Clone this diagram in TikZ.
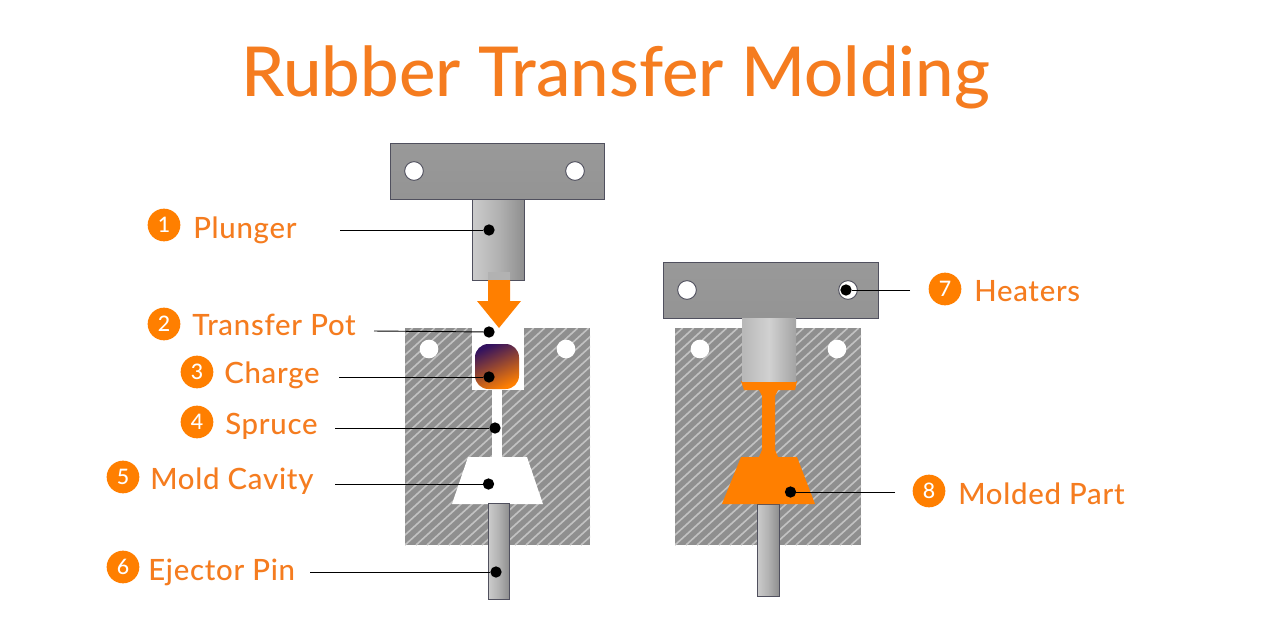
\documentclass[tikz,border=0pt]{standalone}
\usepackage{fontspec}
\setmainfont{Lato Medium}
\newfontfamily\labelfont[LetterSpace=2.5]{Lato Medium}
\usetikzlibrary{shadings}
\definecolor{rorange}{HTML}{FF7F00}
\definecolor{torange}{HTML}{F57C1F}
\definecolor{hatchbg}{HTML}{8F8F8F}
\definecolor{hatchln}{HTML}{C2C2C2}
\definecolor{edgecol}{HTML}{50505E}
\definecolor{purp}{HTML}{33125F}
\tikzset{
  x=0.75pt,y=-0.75pt,
  plate/.style={draw=edgecol,line width=0.7pt,top color=black!40,middle color=black!27,bottom color=black!42},
  metalh/.style={draw=edgecol,line width=0.7pt,left color=black!20,right color=black!44,middle color=black!30},
  hole/.style={circle,draw=edgecol,fill=white,line width=0.7pt,minimum size=14pt,inner sep=0pt},
  boltHole/.style={circle,fill=white,minimum size=14pt,inner sep=0pt},
  dotmark/.style={circle,fill=black,minimum size=8.5pt,inner sep=0pt},
  badge/.style={circle,fill=rorange,text=white,minimum size=24.5pt,inner sep=0pt,font=\fontsize{16}{16}\selectfont},
  lbl/.style={anchor=base west,text=torange,inner sep=0pt,font=\labelfont\fontsize{22}{24}\selectfont},
  leader/.style={draw=black,line width=0.7pt},
  orangefill/.style={fill=rorange,draw=none}
}
\newcommand{\hatchblock}[4]{%
  \fill[hatchbg] (#1,#2) rectangle (#3,#4);
  \begin{scope}
    \clip (#1,#2) rectangle (#3,#4);
    \foreach \k in {-25,...,20}{
      \draw[hatchln,line width=1.2pt] ({#1+\k*11},#4) -- ({#1+\k*11+(#4-#2)*1.1},#2);
    }
  \end{scope}}
\begin{document}
\begin{tikzpicture}
\useasboundingbox (0,0) rectangle (1261,632);
\fill[white] (0,0) rectangle (1261,632);
\node[anchor=base,text=torange,inner sep=0pt,font=\fontsize{51.6}{60}\selectfont] (title) at (615.5,96) {Rubber Transfer Molding};

% left mold
\hatchblock{405}{328}{590}{545}
\fill[white] (472,327) rectangle (524,390);
\fill[white] (492,390) rectangle (502,457);
\fill[white] (468,457) -- (527,457) -- (543,504) -- (452,504) -- cycle;
\node[boltHole] (hl1) at (429,349) {};
\node[boltHole] (hl2) at (566,349) {};
\shade[left color=purp,right color=rorange,shading angle=25,rounded corners=10pt] (475,344) rectangle (519,389);
\fill[metalh] (488,503) rectangle (509,599);
% left top plate and plunger
\fill[plate] (390,143) rectangle (604.5,199);
\node[hole] (hp1) at (414,171) {};
\node[hole] (hp2) at (575,171) {};
\fill[metalh] (472,199) rectangle (524,280);
% arrow
\fill[orangefill] (488,280) -- (510,280) -- (510,301) -- (521,301) -- (499,328) -- (477,301) -- (488,301) -- cycle;
\fill[black!30] (488,272) rectangle (510,280);

% right mold
\hatchblock{675}{328}{861}{545}
\node[boltHole] (hr1) at (700,349) {};
\node[boltHole] (hr2) at (837,349) {};
\fill[metalh] (757,504) rectangle (779,596);
\fill[orangefill] (741,381) -- (797,381) -- (795,390) -- (778,390) -- (775,396) -- (775,450) -- (778,457) -- (797,457) -- (815,504) -- (722,504) -- (741,457) -- (759,457) -- (762,450) -- (762,396) -- (759,390) -- (744,390) -- cycle;
\fill[plate] (663,262) rectangle (878,318);
\node[hole] (hq1) at (687,290) {};
\node[hole] (hq2) at (848,290) {};
\fill[left color=black!28,right color=black!36,middle color=black!18,draw=none] (742,318) rectangle (796,381);

% dots
\node[dotmark] (d1) at (489,230) {};
\node[dotmark] (d2) at (489,332) {};
\node[dotmark] (d3) at (489,377) {};
\node[dotmark] (d4) at (495,428) {};
\node[dotmark] (d5) at (488.5,484) {};
\node[dotmark] (d6) at (496,572) {};
\node[dotmark] (d7) at (846,290) {};
\node[dotmark] (d8) at (790.5,492) {};

% leader ends
\coordinate (e1) at (340,230);
\coordinate (e2) at (374,331);
\coordinate (e3) at (339,377);
\coordinate (e4) at (335,428);
\coordinate (e5) at (335,484);
\coordinate (e6) at (310,572);
\coordinate (e7) at (910,290);
\coordinate (e8) at (895,492);
\foreach \n in {1,...,8}{ \draw[leader] (e\n) -- (d\n); }

% badges
\node[badge] (b1) at (164,225) {1};
\node[badge] (b2) at (164,324) {2};
\node[badge] (b3) at (197,372) {3};
\node[badge] (b4) at (197,422) {4};
\node[badge] (b5) at (123,477) {5};
\node[badge] (b6) at (123,567) {6};
\node[badge] (b7) at (945,289) {7};
\node[badge] (b8) at (929,491) {8};

% labels
\node[lbl] (t1) at (193,238) {Plunger};
\node[lbl] (t2) at (192,335) {Transfer Pot};
\node[lbl] (t3) at (224,383) {Charge};
\node[lbl] (t4) at (225,434) {Spruce};
\node[lbl] (t5) at (150,489) {Mold Cavity};
\node[lbl] (t6) at (148,580) {Ejector Pin};
\node[lbl] (t7) at (974,301) {Heaters};
\node[lbl] (t8) at (958,504) {Molded Part};
\end{tikzpicture}
\end{document}
